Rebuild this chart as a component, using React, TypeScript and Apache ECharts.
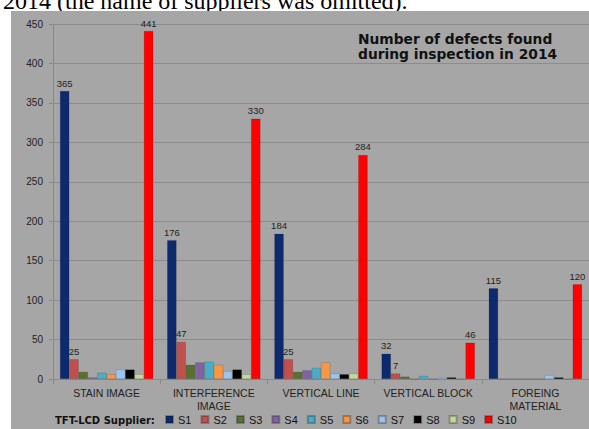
import React, { useEffect, useRef } from "react";
import * as echarts from "echarts";

const categories = [
  "STAIN IMAGE",
  "INTERFERENCE\nIMAGE",
  "VERTICAL LINE",
  "VERTICAL BLOCK",
  "FOREING\nMATERIAL",
];
const seriesNames = ["S1", "S2", "S3", "S4", "S5", "S6", "S7", "S8", "S9", "S10"];
const s1 = [365, 176, 184, 32, 115];
const s2 = [25, 47, 25, 7, 0];
const s3 = [9, 18, 9, 3, 0];
const s4 = [2, 21, 11, 0, 0];
const s5 = [8, 22, 14, 4, 0];
const s6 = [6, 18, 21, 0, 0];
const s7 = [12, 10, 7, 2, 5];
const s8 = [12, 12, 6, 2, 2];
const s9 = [6, 6, 7, 0, 0];
const s10 = [441, 330, 284, 46, 120];
const yTicks = [0, 50, 100, 150, 200, 250, 300, 350, 400, 450];

const allSeries = [s1, s2, s3, s4, s5, s6, s7, s8, s9, s10];
const colors = [
  "#0d2a6e",
  "#c0504d",
  "#5a7030",
  "#8064a2",
  "#4bacc6",
  "#f79646",
  "#9dc3ef",
  "#000000",
  "#c3d69b",
  "#ff0000",
];
const labelled = ["S1", "S2", "S10"];

export default function App() {
  const ref = useRef<HTMLDivElement>(null);
  useEffect(() => {
    if (!ref.current) return;
    const chart = echarts.init(ref.current, null, { renderer: "svg" });
    chart.setOption({
      animation: false,
      backgroundColor: "transparent",
      title: [
        {
          text: "Number of defects found\nduring inspection in 2014",
          left: 347,
          top: 21,
          padding: 0,
          textStyle: {
            fontFamily: "DejaVu Sans, Verdana, sans-serif",
            fontWeight: "bold",
            fontSize: 13.8,
            lineHeight: 14.5,
            color: "#111",
          },
        },
        {
          text: "TFT-LCD Supplier:",
          left: 44,
          top: 404,
          padding: 0,
          textStyle: {
            fontFamily: "DejaVu Sans, Verdana, sans-serif",
            fontWeight: "bold",
            fontSize: 10,
            color: "#111",
          },
        },
      ],
      legend: {
        data: seriesNames,
        left: 154,
        top: 403,
        padding: 0,
        itemWidth: 7,
        itemHeight: 7,
        itemGap: 9,
        icon: "rect",
        textStyle: {
          fontFamily: "Liberation Sans, Arial, sans-serif",
          fontSize: 11,
          color: "#111",
        },
      },
      grid: { left: 42, top: 13, right: -6, bottom: 50 },
      xAxis: {
        type: "category",
        data: categories,
        axisLine: { lineStyle: { color: "#8a8a8a" } },
        axisTick: { show: true, length: 5, lineStyle: { color: "#8a8a8a" } },
        axisLabel: {
          interval: 0,
          fontFamily: "Liberation Sans, Arial, sans-serif",
          fontSize: 10.5,
          color: "#222",
          lineHeight: 13,
          margin: 7,
        },
      },
      yAxis: {
        type: "value",
        min: 0,
        max: 450,
        interval: 50,
        axisLine: { show: true, lineStyle: { color: "#8a8a8a" } },
        axisTick: { show: true, length: 4, lineStyle: { color: "#8a8a8a" } },
        axisLabel: {
          fontFamily: "Liberation Sans, Arial, sans-serif",
          fontSize: 10,
          color: "#222",
          margin: 10,
          formatter: (v: number) => (yTicks.includes(v) ? String(v) : ""),
        },
        splitLine: { lineStyle: { color: "#8c8c8c" } },
      },
      series: allSeries.map((d, i) => ({
        name: seriesNames[i],
        type: "bar",
        data: d,
        barGap: "0%",
        barCategoryGap: "13%",
        itemStyle: {
          color: colors[i],
          borderColor: "rgba(0,0,0,0.25)",
          borderWidth: 0.5,
        },
        label: {
          show: labelled.includes(seriesNames[i]),
          position: "top",
          distance: 3,
          fontFamily: "Liberation Sans, Arial, sans-serif",
          fontSize: 9.5,
          color: "#222",
          formatter: (p: any) => (p.value > 0 ? String(p.value) : ""),
        },
      })),
    });
    return () => chart.dispose();
  }, []);

  return (
    <div
      style={{
        position: "fixed",
        left: 0,
        top: 0,
        width: 589,
        height: 429,
        overflow: "hidden",
        background: "#fff",
      }}
    >
      <div
        style={{
          position: "absolute",
          left: 3,
          top: -12,
          fontFamily: "Liberation Serif, 'Times New Roman', serif",
          fontSize: 24,
          lineHeight: "26px",
          color: "#000",
          whiteSpace: "nowrap",
        }}
      >
        2014 (the name of suppliers was omitted).
      </div>
      <div
        style={{
          position: "absolute",
          left: 11,
          top: 11,
          width: 578,
          height: 418,
          background: "#a6a6a6",
        }}
      >
        <div ref={ref} style={{ width: 578, height: 418 }} />
      </div>
    </div>
  );
}
